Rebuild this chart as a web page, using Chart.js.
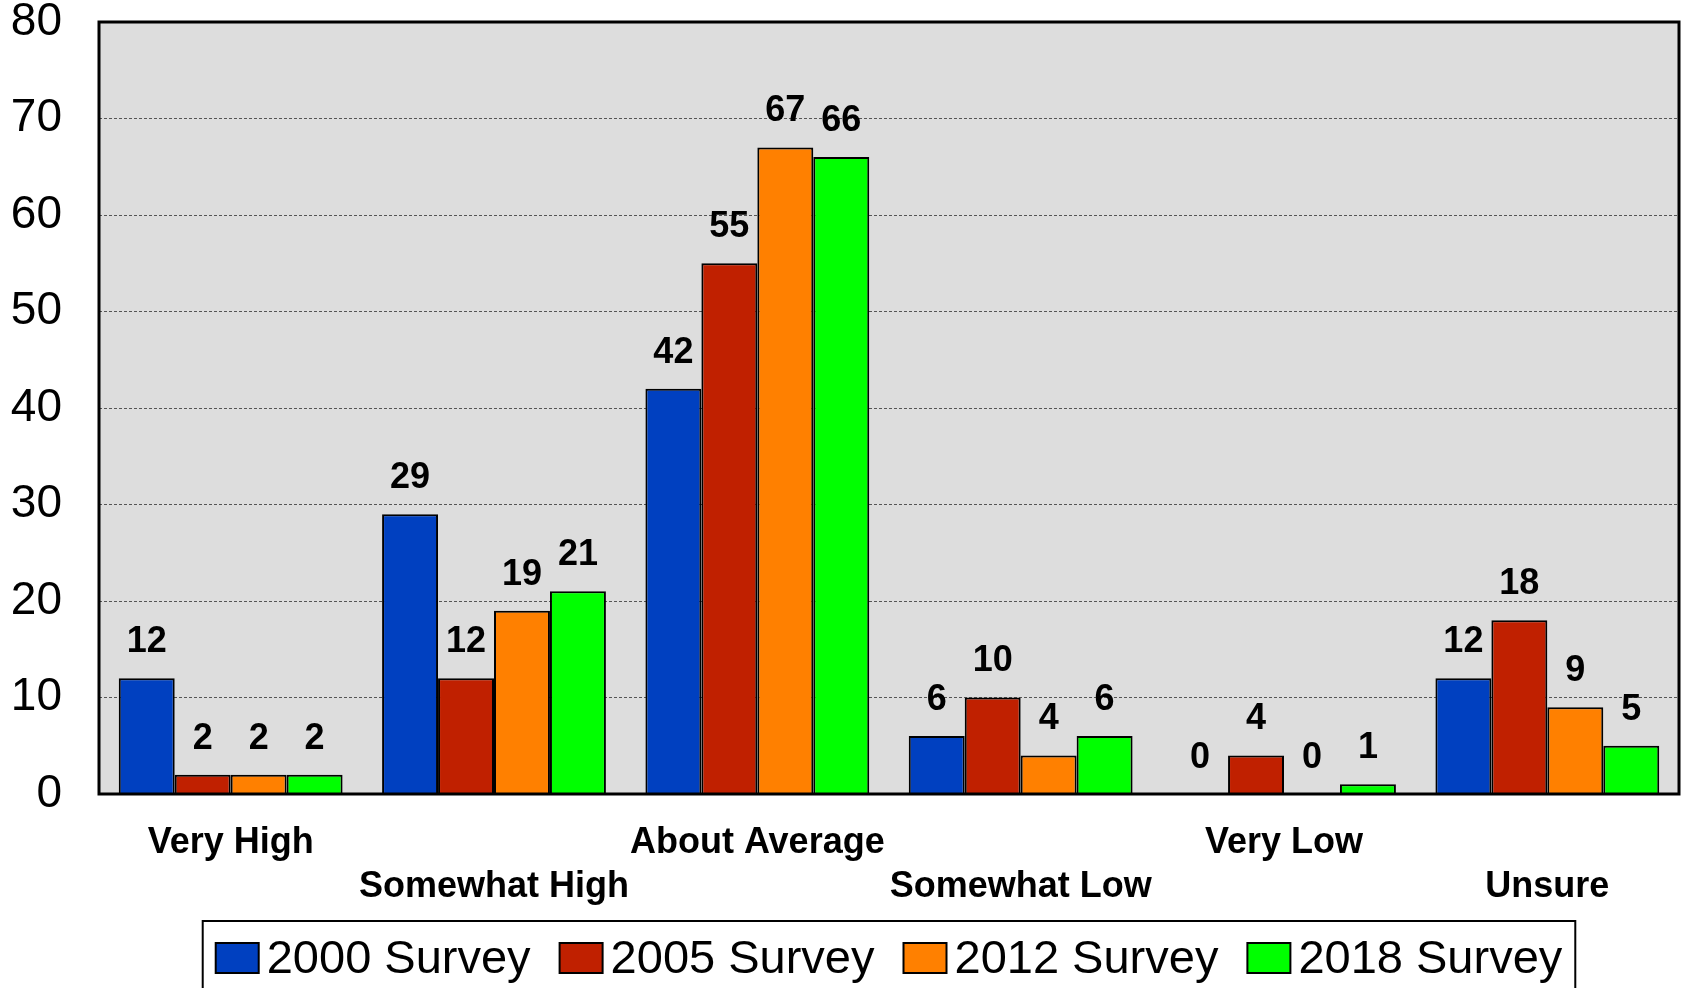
<!DOCTYPE html>
<html>
<head>
<meta charset="utf-8">
<script src="https://cdn.jsdelivr.net/npm/chart.js@4.4.1/dist/chart.umd.min.js"></script>
<style>
  html, body { margin: 0; padding: 0; background: #fff; }
</style>
</head>
<body>
<canvas id="chart" width="1684" height="988"></canvas>
<script>
// data
var categories = ['Very High', 'Somewhat High', 'About Average', 'Somewhat Low', 'Very Low', 'Unsure'];
var survey2000 = [12, 29, 42, 6, 0, 12];
var survey2005 = [2, 12, 55, 10, 4, 18];
var survey2012 = [2, 19, 67, 4, 0, 9];
var survey2018 = [2, 21, 66, 6, 1, 5];
var seriesNames = ['2000 Survey', '2005 Survey', '2012 Survey', '2018 Survey'];
var seriesColors = ['#0040C0', '#C02000', '#FF8000', '#00FF00'];

var FONT = "'Liberation Sans', Arial, sans-serif";

// staggered category labels: even ones on first line, odd ones on second
var xLabels = categories.map(function(c, i) {
  return i % 2 === 0 ? [c, ''] : ['', c];
});

var plotBg = {
  id: 'plotBg',
  beforeDraw: function(chart) {
    var a = chart.chartArea, ctx = chart.ctx;
    ctx.save();
    ctx.fillStyle = '#DDDDDD';
    ctx.fillRect(a.left, a.top, a.right - a.left, a.bottom - a.top);
    ctx.restore();
  }
};

var valueLabels = {
  id: 'valueLabels',
  afterDatasetsDraw: function(chart) {
    var ctx = chart.ctx;
    ctx.save();
    ctx.font = 'bold 36px ' + FONT;
    ctx.fillStyle = '#000';
    ctx.textAlign = 'center';
    ctx.textBaseline = 'middle';
    chart.data.datasets.forEach(function(ds, di) {
      chart.getDatasetMeta(di).data.forEach(function(bar, i) {
        ctx.fillText(String(ds.data[i]), bar.x, bar.y - 36);
      });
    });
    ctx.restore();
  }
};

var frame = {
  id: 'frame',
  afterDraw: function(chart) {
    var a = chart.chartArea, ctx = chart.ctx;
    ctx.save();
    ctx.strokeStyle = '#000';
    ctx.lineWidth = 3;
    ctx.strokeRect(a.left, a.top, a.right - a.left, a.bottom - a.top);
    ctx.restore();
  }
};

var boxLegend = {
  id: 'boxLegend',
  afterDraw: function(chart) {
    var ctx = chart.ctx, a = chart.chartArea;
    ctx.save();
    ctx.font = '47px ' + FONT;
    var boxW = 43, boxH = 30, gap = 8, itemGap = 29, pad = 13;
    var widths = chart.data.datasets.map(function(ds) { return ctx.measureText(ds.label).width; });
    var total = pad * 2 - itemGap;
    widths.forEach(function(w) { total += boxW + gap + w + itemGap; });
    var left = (a.left + a.right) / 2 - total / 2;
    var top = 921, cy = 958;
    ctx.strokeStyle = '#000';
    ctx.lineWidth = 2;
    ctx.strokeRect(left, top, total, 80);
    var x = left + pad;
    ctx.textBaseline = 'middle';
    ctx.textAlign = 'left';
    chart.data.datasets.forEach(function(ds, i) {
      ctx.fillStyle = ds.backgroundColor;
      ctx.fillRect(x, cy - boxH / 2, boxW, boxH);
      ctx.lineWidth = 2;
      ctx.strokeRect(x, cy - boxH / 2, boxW, boxH);
      ctx.fillStyle = '#000';
      ctx.fillText(ds.label, x + boxW + gap, cy + 2);
      x += boxW + gap + widths[i] + itemGap;
    });
    ctx.restore();
  }
};

var allSeries = [survey2000, survey2005, survey2012, survey2018];

new Chart(document.getElementById('chart'), {
  type: 'bar',
  data: {
    labels: xLabels,
    datasets: allSeries.map(function(vals, i) {
      return {
        label: seriesNames[i],
        data: vals,
        backgroundColor: seriesColors[i],
        borderColor: '#000',
        borderWidth: 2,
        borderSkipped: 'bottom',
        categoryPercentage: 0.85,
        barPercentage: 1.0
      };
    })
  },
  options: {
    responsive: false,
    devicePixelRatio: 1,
    animation: false,
    layout: { padding: { top: 22, right: 5, left: 0, bottom: 82 } },
    plugins: {
      legend: { display: false },
      tooltip: { enabled: false }
    },
    scales: {
      x: {
        grid: { display: false, drawTicks: false },
        border: { display: false },
        ticks: {
          autoSkip: false,
          maxRotation: 0,
          padding: 27,
          color: '#000',
          font: { family: FONT, size: 36, weight: 'bold', lineHeight: 1.22 }
        },
        afterFit: function(s) { s.height = 112; s.paddingLeft = 0; s.paddingRight = 0; }
      },
      y: {
        min: 0,
        max: 80,
        ticks: {
          stepSize: 10,
          padding: 37,
          color: '#000',
          font: { family: FONT, size: 46 }
        },
        grid: {
          drawTicks: false,
          lineWidth: 1,
          color: function(c) {
            return (c.tick.value === 0 || c.tick.value === 80) ? 'rgba(0,0,0,0)' : '#555';
          }
        },
        border: { display: false, dash: [3, 2] },
        afterFit: function(s) { s.width = 99; s.paddingTop = 0; s.paddingBottom = 0; }
      }
    }
  },
  plugins: [plotBg, valueLabels, frame, boxLegend]
});
</script>
</body>
</html>
